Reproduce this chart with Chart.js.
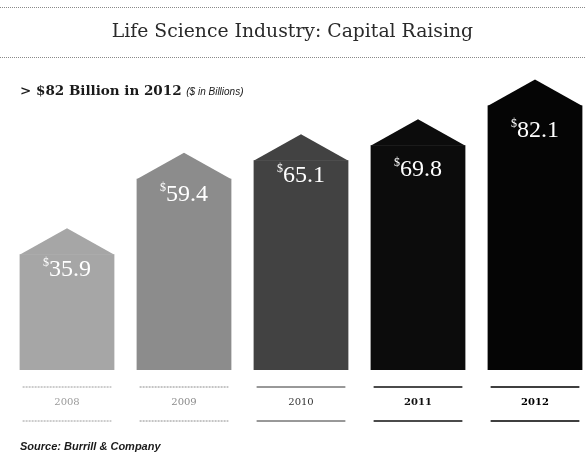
<!DOCTYPE html>
<html>
<head>
<meta charset="utf-8">
<script src="https://cdn.jsdelivr.net/npm/chart.js@4.4.0/dist/chart.umd.min.js"></script>
<style>
  html, body { margin: 0; padding: 0; background: #fff; overflow: hidden; }
  #wrap { position: relative; width: 585px; height: 467px; overflow: hidden; }
  #stage { position: absolute; left: 0; top: 0; }
  .rule { position: absolute; left: 0; width: 585px; border-top: 1px dotted #8a8a8a; }
  #title { position: absolute; left: 0; width: 585px; top: 20px; text-align: center;
    font-family: "DejaVu Serif", serif; font-size: 18.8px; color: #2a2a2a; }
  #sub { position: absolute; left: 20px; top: 82px; font-family: "DejaVu Serif", serif;
    font-weight: bold; font-size: 13.5px; color: #1a1a1a; }
  #sub span { font-family: "Liberation Sans", sans-serif; font-style: italic; font-weight: normal; font-size: 10px; }
  #src { position: absolute; left: 20px; top: 440px; font-family: "Liberation Sans", sans-serif;
    font-style: italic; font-weight: bold; font-size: 11px; color: #1a1a1a; }
</style>
</head>
<body>
<div id="wrap">
  <canvas id="stage" width="595" height="467"></canvas>
  <div class="rule" style="top:7px"></div>
  <div id="title">Life Science Industry: Capital Raising</div>
  <div class="rule" style="top:57px"></div>
  <div id="sub">&gt; $82 Billion in 2012 <span>($ in Billions)</span></div>
  <div id="src">Source: Burrill &amp; Company</div>
</div>
<script>
const years = ['2008', '2009', '2010', '2011', '2012'];
const capital = [35.9, 59.4, 65.1, 69.8, 82.1];

const barColors = ['#a6a6a6', '#8c8c8c', '#424242', '#0c0c0c', '#050505'];
const yearColors = ['#9a9a9a', '#8a8a8a', '#333333', '#111111', '#000000'];
// distance from bar top down to value baseline
const labelDrop = [22, 22, 22, 31, 31];

// pointed cap on top of every bar + labels under them
const housePlugin = {
  id: 'house',
  afterDatasetsDraw(chart) {
    const ctx = chart.ctx;
    const meta = chart.getDatasetMeta(0);
    meta.data.forEach((bar, i) => {
      const p = bar.getProps(['x', 'y', 'width', 'base'], true);
      const half = p.width / 2;
      ctx.save();
      ctx.fillStyle = barColors[i];
      ctx.beginPath();
      ctx.moveTo(p.x - half, p.y + 0.5);
      ctx.lineTo(p.x, p.y - 26);
      ctx.lineTo(p.x + half, p.y + 0.5);
      ctx.closePath();
      ctx.fill();

      // value label with small superscript $
      const num = capital[i].toFixed(1);
      ctx.fillStyle = '#ffffff';
      ctx.textBaseline = 'alphabetic';
      ctx.font = '24px "Liberation Serif", serif';
      const wNum = ctx.measureText(num).width;
      ctx.font = '12px "Liberation Serif", serif';
      const wSign = ctx.measureText('$').width;
      const left = p.x - (wNum + wSign) / 2;
      const baseY = p.y + labelDrop[i];
      ctx.fillText('$', left, baseY - 10);
      ctx.font = '24px "Liberation Serif", serif';
      ctx.fillText(num, left + wSign, baseY);

      // year label between two rules
      ctx.strokeStyle = yearColors[i];
      ctx.lineWidth = i > 2 ? 1.5 : 1;
      ctx.setLineDash(i < 2 ? [2, 1] : []);
      ctx.beginPath();
      ctx.moveTo(p.x - half + 3, p.base + 17);
      ctx.lineTo(p.x + half - 3, p.base + 17);
      ctx.moveTo(p.x - half + 3, p.base + 51);
      ctx.lineTo(p.x + half - 3, p.base + 51);
      ctx.stroke();
      ctx.setLineDash([]);
      ctx.fillStyle = yearColors[i];
      ctx.textAlign = 'center';
      ctx.textBaseline = 'middle';
      ctx.font = (i > 2 ? 'bold ' : '') + '10px "DejaVu Serif", serif';
      ctx.fillText(years[i], p.x, p.base + 32);
      ctx.restore();
    });
  }
};

new Chart(document.getElementById('stage'), {
  type: 'bar',
  data: {
    labels: years,
    datasets: [{
      data: capital,
      backgroundColor: barColors,
      borderWidth: 0,
      barPercentage: 1,
      categoryPercentage: 0.81
    }]
  },
  options: {
    responsive: false,
    animation: false,
    layout: { padding: { left: 8.5, right: 1.5, top: 43, bottom: 97 } },
    plugins: { legend: { display: false }, tooltip: { enabled: false } },
    scales: {
      x: { display: false },
      y: { display: false, min: 0, max: 101.5 }
    }
  },
  plugins: [housePlugin]
});
</script>
</body>
</html>
